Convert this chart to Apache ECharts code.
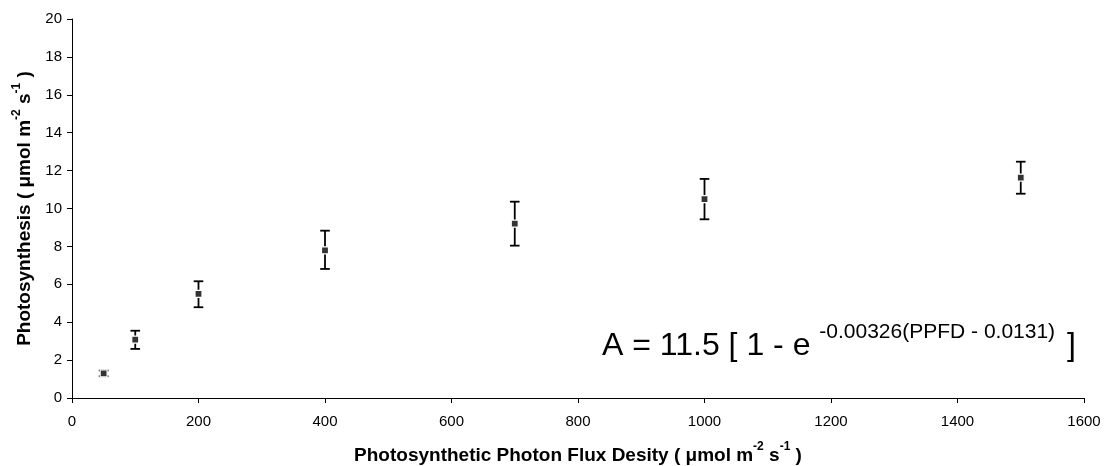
<!DOCTYPE html>
<html>
<head>
<meta charset="utf-8">
<title>Light response of photosynthesis</title>
<script src="https://cdn.jsdelivr.net/npm/echarts@6/dist/echarts.min.js"></script>
<style>
  html, body { margin: 0; padding: 0; background: #ffffff; }
  #chart { width: 1112px; height: 466px; }
</style>
</head>
<body>
<div id="chart"></div>
<script>
// Light levels (PPFD, µmol m-2 s-1)
const ppfd = [50, 100, 200, 400, 700, 1000, 1500];
// Mean net photosynthesis (µmol m-2 s-1)
const meanA = [1.30, 3.08, 5.49, 7.79, 9.20, 10.49, 11.63];
// Error bar limits
const upperA = [1.45, 3.55, 6.16, 8.83, 10.36, 11.56, 12.47];
const lowerA = [1.15, 2.59, 4.79, 6.81, 8.04, 9.43, 10.78];

const FONT = '"Liberation Sans", Arial, Helvetica, sans-serif';

const points = ppfd.map((x, i) => [x, meanA[i]]);
const bars = ppfd.map((x, i) => [x, lowerA[i], upperA[i]]);

const chart = echarts.init(document.getElementById('chart'), null, { renderer: 'canvas' });

function renderErrorBar(params, api) {
  const x = api.value(0);
  const lo = api.coord([x, api.value(1)]);
  const hi = api.coord([x, api.value(2)]);
  const half = 4.8;
  const style = { stroke: '#000000', lineWidth: 1.8 };
  return {
    type: 'group',
    children: [
      { type: 'line', shape: { x1: lo[0], y1: lo[1], x2: hi[0], y2: hi[1] }, style },
      { type: 'line', shape: { x1: hi[0] - half, y1: hi[1], x2: hi[0] + half, y2: hi[1] }, style },
      { type: 'line', shape: { x1: lo[0] - half, y1: lo[1], x2: lo[0] + half, y2: lo[1] }, style }
    ]
  };
}

const axisTitleRich = {
  b: { fontFamily: FONT, fontWeight: 'bold', fontSize: 19, lineHeight: 24, verticalAlign: 'bottom', color: '#000' },
  s: { fontFamily: FONT, fontWeight: 'bold', fontSize: 12, lineHeight: 12, verticalAlign: 'top', color: '#000' }
};

chart.setOption({
  animation: false,
  backgroundColor: '#ffffff',
  grid: { left: 72, right: 28, top: 19, bottom: 68, containLabel: false, outerBoundsMode: 'none' },
  xAxis: {
    type: 'value',
    min: 0,
    max: 1600,
    interval: 200,
    splitLine: { show: false },
    axisLine: { show: true, onZero: false, lineStyle: { color: '#000', width: 1 } },
    axisTick: { show: true, inside: false, length: 5, lineStyle: { color: '#000' } },
    axisLabel: { color: '#000', fontFamily: FONT, fontSize: 15, margin: 16, formatter: (v) => String(v) },
    name: '{b|Photosynthetic Photon Flux Desity ( μmol m}{s|-2}{b| s}{s|-1}{b| )}',
    nameLocation: 'middle',
    nameGap: 43,
    nameTextStyle: { rich: axisTitleRich }
  },
  yAxis: {
    type: 'value',
    min: 0,
    max: 20,
    interval: 2,
    splitLine: { show: false },
    axisLine: { show: true, lineStyle: { color: '#000', width: 1 } },
    axisTick: { show: true, inside: false, length: 5, lineStyle: { color: '#000' } },
    axisLabel: { color: '#000', fontFamily: FONT, fontSize: 15, margin: 10, formatter: (v) => String(v) },
    name: '{b|Photosynthesis ( μmol m}{s|-2}{b| s}{s|-1}{b| )}',
    nameLocation: 'middle',
    nameGap: 36,
    nameTextStyle: { rich: axisTitleRich }
  },
  graphic: [
    {
      type: 'text',
      left: 602,
      top: 322,
      z: 10,
      style: {
        text: '{m|A = 11.5 [ 1 - e }{s|-0.00326(PPFD - 0.0131)}{r| ]}',
        rich: {
          m: { fontFamily: FONT, fontSize: 32, lineHeight: 40, verticalAlign: 'bottom', fill: '#000' },
          s: { fontFamily: FONT, fontSize: 21, lineHeight: 21, verticalAlign: 'top', fill: '#000' },
          r: { fontFamily: FONT, fontSize: 32, lineHeight: 40, verticalAlign: 'bottom', fill: '#000', padding: [0, 0, 0, 3] }
        }
      }
    }
  ],
  series: [
    {
      name: 'range',
      type: 'custom',
      data: bars,
      renderItem: renderErrorBar,
      z: 2,
      silent: true
    },
    {
      name: 'mean',
      type: 'scatter',
      data: points,
      symbol: 'rect',
      symbolSize: 7,
      itemStyle: { color: '#333333', borderColor: '#ffffff', borderWidth: 1.2, opacity: 1 },
      z: 3
    }
  ]
});
</script>
</body>
</html>
